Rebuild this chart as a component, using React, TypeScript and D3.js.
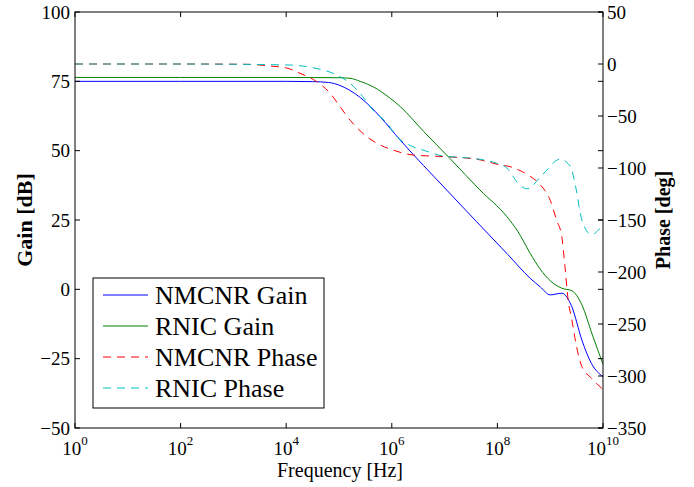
import * as d3 from "d3";
import React from "react";

// Frequency axis: exponents of 10 (Hz)
const xTickExps = [0, 2, 4, 6, 8, 10];
const gainTicks = [100, 75, 50, 25, 0, -25, -50];
const phaseTicks = [50, 0, -50, -100, -150, -200, -250, -300, -350];

// NMCNR gain [dB]
const nmcnrGainLogF = [0, 2, 4, 4.5, 4.8, 5.02, 5.2, 5.4, 5.6, 5.78, 6.16, 7.04, 7.6, 8.2, 8.62, 8.81, 9.0, 9.22, 9.41, 9.6, 9.78, 10];
const nmcnrGainDb = [75, 75, 75, 74.9, 74.6, 73.5, 71.8, 69.2, 65.8, 62.2, 53.8, 35.8, 24.5, 12.5, 4.0, 0.9, -2.0, -1.4, -6.3, -18.3, -26.7, -31.5];

// RNIC gain [dB]
const rnicGainLogF = [0, 2, 4, 5.0, 5.21, 5.4, 5.64, 5.97, 6.16, 6.6, 7.1, 7.67, 8.18, 8.39, 8.62, 8.81, 9.0, 9.22, 9.41, 9.6, 9.8, 10];
const rnicGainDb = [76.4, 76.4, 76.4, 76.3, 76.1, 75.0, 73.1, 68.9, 65.9, 57.0, 47.2, 35.8, 26.2, 20.8, 13.0, 7.3, 3.1, 0.4, -0.5, -5.6, -16.5, -27];

// NMCNR phase [deg]
const nmcnrPhaseLogF = [0, 2, 3.26, 3.69, 4.02, 4.26, 4.58, 4.83, 5.02, 5.21, 5.45, 5.72, 6.02, 6.4, 6.97, 7.61, 8.05, 8.24, 8.45, 8.62, 8.81, 9.0, 9.12, 9.22, 9.28, 9.34, 9.41, 9.5, 9.6, 9.78, 10];
const nmcnrPhaseDeg = [0, 0, -0.3, -1.9, -4, -8.9, -17, -28, -41, -54, -66.6, -76.3, -82.7, -87.5, -89, -91.6, -97, -98.7, -103, -108, -116, -131, -150, -166, -195, -227, -246, -272, -291, -302, -313];

// RNIC phase [deg]
const rnicPhaseLogF = [0, 2, 4.07, 4.39, 4.64, 4.96, 5.21, 5.45, 5.64, 5.91, 6.1, 6.4, 6.67, 6.97, 7.29, 7.67, 7.99, 8.18, 8.39, 8.56, 8.86, 9.19, 9.3, 9.41, 9.49, 9.6, 9.78, 10];
const rnicPhaseDeg = [0, 0, -1, -2.6, -5, -10.6, -18.6, -31.4, -44.2, -57, -70, -79.5, -84, -88.5, -89.7, -91.6, -95.5, -100, -114.5, -120, -106, -91.5, -94, -102, -120, -150, -164, -154];

const legendNames = ["NMCNR Gain", "RNIC Gain", "NMCNR Phase", "RNIC Phase"];

const font = "Liberation Serif, Times New Roman, DejaVu Serif, serif";

export default function App() {
  const width = 694;
  const height = 487;
  const left = 75, right = 603, top = 12, bottom = 428;

  const x = d3.scaleLog().domain([1, 1e10]).range([left, right]);
  const yGain = d3.scaleLinear().domain([-50, 100]).range([bottom, top]);
  const yPhase = d3.scaleLinear().domain([-350, 50]).range([bottom, top]);

  const mkLine = (y: d3.ScaleLinear<number, number>) =>
    d3
      .line<[number, number]>()
      .x((d) => x(Math.pow(10, d[0])))
      .y((d) => y(d[1]))
      .curve(d3.curveMonotoneX);

  const zip = (a: number[], b: number[]) => a.map((v, i) => [v, b[i]] as [number, number]);

  const series = [
    { d: mkLine(yGain)(zip(nmcnrGainLogF, nmcnrGainDb)), color: "#0000ff", dash: "none" },
    { d: mkLine(yGain)(zip(rnicGainLogF, rnicGainDb)), color: "#008000", dash: "none" },
    { d: mkLine(yPhase)(zip(nmcnrPhaseLogF, nmcnrPhaseDeg)), color: "#ff0000", dash: "8,6" },
    { d: mkLine(yPhase)(zip(rnicPhaseLogF, rnicPhaseDeg)), color: "#00bfbf", dash: "8,6" },
  ];

  const fmt = (v: number) => (v < 0 ? "\u2212" + Math.abs(v) : String(v));
  const tk = 5;

  // legend box
  const lg = { x: 93, y: 278, w: 231, h: 130 };

  return (
    <div style={{ position: "absolute", left: 0, top: 0 }}>
      <svg width={width} height={height} style={{ display: "block", background: "#fff" }}>
        <defs>
          <clipPath id="plot-clip">
            <rect x={left} y={top} width={right - left} height={bottom - top} />
          </clipPath>
        </defs>

        {/* series */}
        <g clipPath="url(#plot-clip)">
          {series.map((s, i) => (
            <path key={i} d={s.d || ""} fill="none" stroke={s.color} strokeWidth={1} strokeDasharray={s.dash} />
          ))}
        </g>

        {/* x ticks (bottom + top) */}
        {xTickExps.map((e) => {
          const px = x(Math.pow(10, e));
          return (
            <g key={"x" + e}>
              <line x1={px} x2={px} y1={bottom} y2={bottom - tk} stroke="#000" />
              <line x1={px} x2={px} y1={top} y2={top + tk} stroke="#000" />
              <text x={px} y={455} textAnchor="middle" fontFamily={font} fontSize={19}>
                10
                <tspan dy={-10} fontSize={13}>{e}</tspan>
              </text>
            </g>
          );
        })}

        {/* gain ticks (left, mirrored right) */}
        {gainTicks.map((v) => {
          const py = yGain(v);
          return (
            <g key={"g" + v}>
              <line x1={left} x2={left + tk} y1={py} y2={py} stroke="#000" />
              <line x1={right} x2={right - tk} y1={py} y2={py} stroke="#000" />
              <text x={70} y={py} dy="0.35em" textAnchor="end" fontFamily={font} fontSize={19}>
                {fmt(v)}
              </text>
            </g>
          );
        })}

        {/* phase ticks (right) */}
        {phaseTicks.map((v) => {
          const py = yPhase(v);
          return (
            <g key={"p" + v}>
              <line x1={right} x2={right - tk} y1={py} y2={py} stroke="#000" />
              <text x={607} y={py} dy="0.35em" textAnchor="start" fontFamily={font} fontSize={19}>
                {fmt(v)}
              </text>
            </g>
          );
        })}

        {/* frame */}
        <rect x={left} y={top} width={right - left} height={bottom - top} fill="none" stroke="#000" strokeWidth={1} />

        {/* axis labels */}
        <text x={340} y={477} textAnchor="middle" fontFamily={font} fontSize={20}>
          Frequency [Hz]
        </text>
        <text
          transform={`translate(32, ${(top + bottom) / 2}) rotate(-90)`}
          textAnchor="middle"
          fontFamily={font}
          fontSize={22}
          fontWeight="bold"
        >
          Gain [dB]
        </text>
        <text
          transform={`translate(670, ${(top + bottom) / 2}) rotate(-90)`}
          textAnchor="middle"
          fontFamily={font}
          fontSize={20}
          fontWeight="bold"
        >
          Phase [deg]
        </text>

        {/* legend */}
        <rect x={lg.x} y={lg.y} width={lg.w} height={lg.h} fill="#fff" stroke="#000" strokeWidth={1} />
        {legendNames.map((name, i) => {
          const ry = 295 + i * 31;
          return (
            <g key={name}>
              <line x1={103} x2={148} y1={ry} y2={ry} stroke={series[i].color} strokeDasharray={series[i].dash} />
              <text x={155} y={ry} dy="0.35em" fontFamily={font} fontSize={26}>
                {name}
              </text>
            </g>
          );
        })}
      </svg>
    </div>
  );
}
